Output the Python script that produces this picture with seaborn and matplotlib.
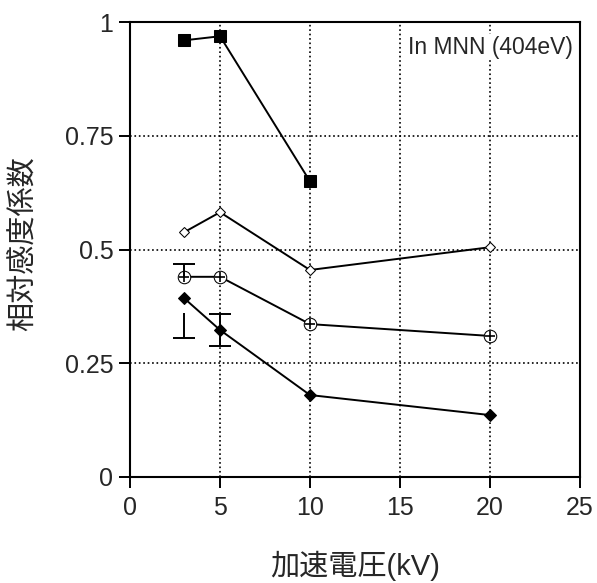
import matplotlib
matplotlib.use('Agg')
import matplotlib.pyplot as plt
import seaborn as sns
import pandas as pd

# Data
kv = [3, 5, 10, 20]
kv_square = [3, 5, 10]
square_vals = [0.960, 0.969, 0.650]
open_diamond_vals = [0.538, 0.582, 0.455, 0.505]
circle_plus_vals = [0.440, 0.440, 0.336, 0.310]
filled_diamond_vals = [0.393, 0.323, 0.180, 0.136]

# error bars (x, low, high, caps drawn at)
err_x = [3, 3, 5]
err_low = [0.440, 0.305, 0.288]
err_high = [0.468, 0.360, 0.358]
err_caps = [[0.468], [0.305], [0.288, 0.358]]

xticks = [0, 5, 10, 15, 20, 25]
yticks = [0, 0.25, 0.5, 0.75, 1]
ytick_labels = ['0', '0.25', '0.5', '0.75', '1']

sns.set_style('white')
plt.rcParams['font.family'] = ['Liberation Sans', 'Noto Sans CJK JP', 'DejaVu Sans']

fig = plt.figure(figsize=(5.97, 5.83), dpi=100)
ax = fig.add_axes([0.218, 0.182, 0.753, 0.780])

ax.grid(True, linestyle=':', color='black', linewidth=1.2)
ax.set_axisbelow(True)

line_kw = dict(color='black', linewidth=1.4, legend=False)
sns.lineplot(x=kv_square, y=square_vals, marker='s', markersize=8,
             markeredgecolor='black', markerfacecolor='black', ax=ax, **line_kw)
sns.lineplot(x=kv, y=open_diamond_vals, marker='D', markersize=5,
             markeredgecolor='black', markerfacecolor='white', ax=ax, **line_kw)
sns.lineplot(x=kv, y=circle_plus_vals, marker='o', markersize=9,
             markeredgecolor='black', markerfacecolor='white', ax=ax, **line_kw)
sns.scatterplot(x=kv, y=circle_plus_vals, marker='+', s=60, color='black',
                linewidth=1.2, ax=ax, zorder=5)
sns.lineplot(x=kv, y=filled_diamond_vals, marker='D', markersize=6,
             markeredgecolor='black', markerfacecolor='black', ax=ax, **line_kw)

ax.vlines(err_x, err_low, err_high, color='black', linewidth=1.4)
for x, caps in zip(err_x, err_caps):
    ax.hlines(caps, x - 0.6, x + 0.6, color='black', linewidth=1.4)

ax.text(24.6, 0.945, 'In MNN (404eV)', ha='right', va='center', fontsize=16.5,
        bbox=dict(facecolor='white', edgecolor='none', pad=1))

ax.set_xlim(0, 25)
ax.set_ylim(0, 1)
ax.set_xticks(xticks)
ax.set_yticks(yticks)
ax.set_yticklabels(ytick_labels)
ax.tick_params(axis='both', direction='out', length=8, width=1.4,
               labelsize=18, color='black', bottom=True, left=True)
ax.tick_params(axis='x', pad=6)
ax.tick_params(axis='y', pad=4)
for s in ax.spines.values():
    s.set_color('black')
    s.set_linewidth(1.5)

ax.set_xlabel('加速電圧(kV)', fontsize=21)
ax.set_ylabel('相対感度係数', fontsize=21)
ax.xaxis.set_label_coords(0.5, -0.163)
ax.yaxis.set_label_coords(-0.205, 0.514)

fig.savefig('out.png', dpi=100)
